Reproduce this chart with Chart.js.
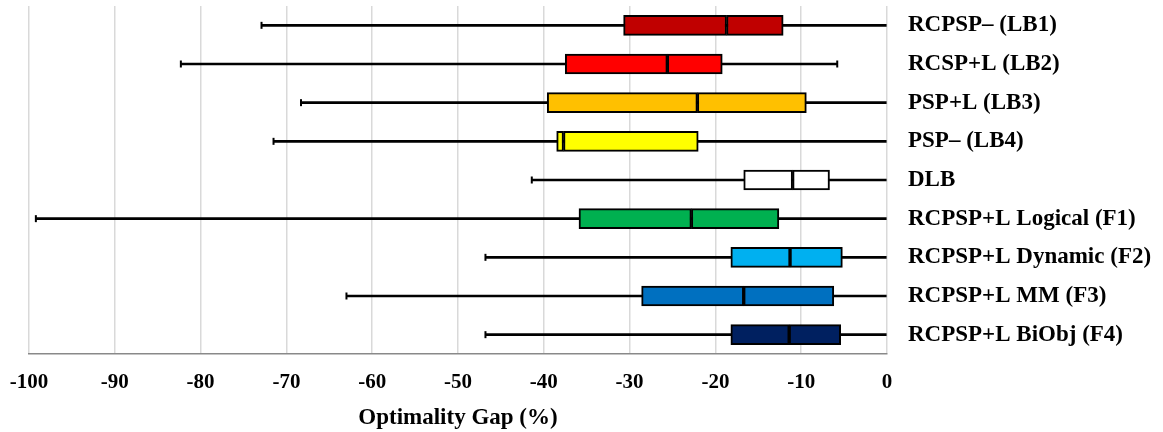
<!DOCTYPE html>
<html>
<head>
<meta charset="utf-8">
<script src="https://cdn.jsdelivr.net/npm/chart.js@4/dist/chart.umd.min.js"></script>
<style>
  html, body { margin: 0; padding: 0; background: #fff; }
  #wrap { width: 1163px; height: 432px; }
</style>
</head>
<body>
<div id="wrap"><canvas id="gapChart"></canvas></div>
<script>
// box plot data (optimality gap, %)
const methods = [
  "RCPSP\u2013 (LB1)",
  "RCSP+L (LB2)",
  "PSP+L (LB3)",
  "PSP\u2013 (LB4)",
  "DLB",
  "RCPSP+L Logical (F1)",
  "RCPSP+L Dynamic (F2)",
  "RCPSP+L MM (F3)",
  "RCPSP+L BiObj (F4)"
];
const mins    = [-72.9, -82.3, -68.3, -71.5, -41.4, -99.2, -46.8, -63.0, -46.8];
const q1s     = [-30.7, -37.5, -39.6, -38.5, -16.7, -35.9, -18.2, -28.6, -18.2];
const medians = [-18.7, -25.6, -22.1, -37.7, -11.0, -22.8, -11.3, -16.7, -11.4];
const q3s     = [-12.1, -19.2,  -9.4, -22.0,  -6.7, -12.6,  -5.2,  -6.2,  -5.4];
const maxs    = [  0.0,  -5.8,   0.0,   0.0,   0.0,   0.0,   0.0,   0.0,   0.0];
const boxColors = ["#C00000", "#FF0000", "#FFC000", "#FFFF00", "#FFFFFF",
                   "#00B050", "#00B0F0", "#0070C0", "#002060"];
const xTicks = [-100, -90, -80, -70, -60, -50, -40, -30, -20, -10, 0];

const serif = "'Liberation Serif', 'Times New Roman', serif";

// whisker end caps, skip the ones sitting on the 0 edge
const caps = [];
methods.forEach((m, i) => {
  caps.push({ x: mins[i], y: m });
  if (maxs[i] < 0) caps.push({ x: maxs[i], y: m });
});

const boxStyle = {
  type: "bar",
  backgroundColor: boxColors,
  borderColor: "#000",
  borderWidth: 2,
  borderSkipped: false,
  barThickness: 20,
  grouped: false,
  order: 2
};

new Chart(document.getElementById("gapChart"), {
  data: {
    labels: methods,
    datasets: [
      {
        type: "scatter",
        data: caps,
        pointStyle: "line",
        rotation: 90,
        pointRadius: 3.5,
        borderColor: "#000",
        borderWidth: 2,
        order: 1
      },
      Object.assign({ data: q1s.map((q, i) => [q, medians[i]]) }, boxStyle),
      Object.assign({ data: medians.map((m, i) => [m, q3s[i]]) }, boxStyle),
      {
        type: "bar",
        data: mins.map((m, i) => [m, maxs[i]]),
        backgroundColor: "#000",
        borderWidth: 0,
        barThickness: 2,
        grouped: false,
        order: 3
      }
    ]
  },
  options: {
    indexAxis: "y",
    responsive: true,
    maintainAspectRatio: false,
    animation: false,
    layout: { padding: { left: 29, top: 6, right: 0, bottom: 0 } },
    plugins: {
      legend: { display: false },
      tooltip: { enabled: false }
    },
    scales: {
      x: {
        type: "linear",
        min: -100,
        max: 0,
        afterBuildTicks: axis => { axis.ticks = xTicks.map(v => ({ value: v })); },
        afterFit: axis => {
          axis.height = 78;
          axis.paddingLeft = 0;
          axis.paddingRight = 0;
        },
        ticks: {
          color: "#000",
          padding: 16,
          font: { family: serif, size: 21, weight: "bold" }
        },
        grid: { color: "#D9D9D9", lineWidth: 1.5, drawTicks: false },
        border: { color: "#898989", width: 1.5 },
        title: {
          display: true,
          text: "Optimality Gap (%)",
          color: "#000",
          padding: { top: 6, bottom: 0 },
          font: { family: serif, size: 23, weight: "bold" }
        }
      },
      y: {
        type: "category",
        position: "right",
        afterFit: axis => {
          axis.width = 276;
          axis.paddingTop = 0;
          axis.paddingBottom = 0;
        },
        grid: { display: false, drawTicks: false },
        border: { display: false },
        ticks: {
          color: "#000",
          crossAlign: "near",
          padding: 21,
          font: { family: serif, size: 23, weight: "bold" }
        }
      }
    }
  }
});
</script>
</body>
</html>
